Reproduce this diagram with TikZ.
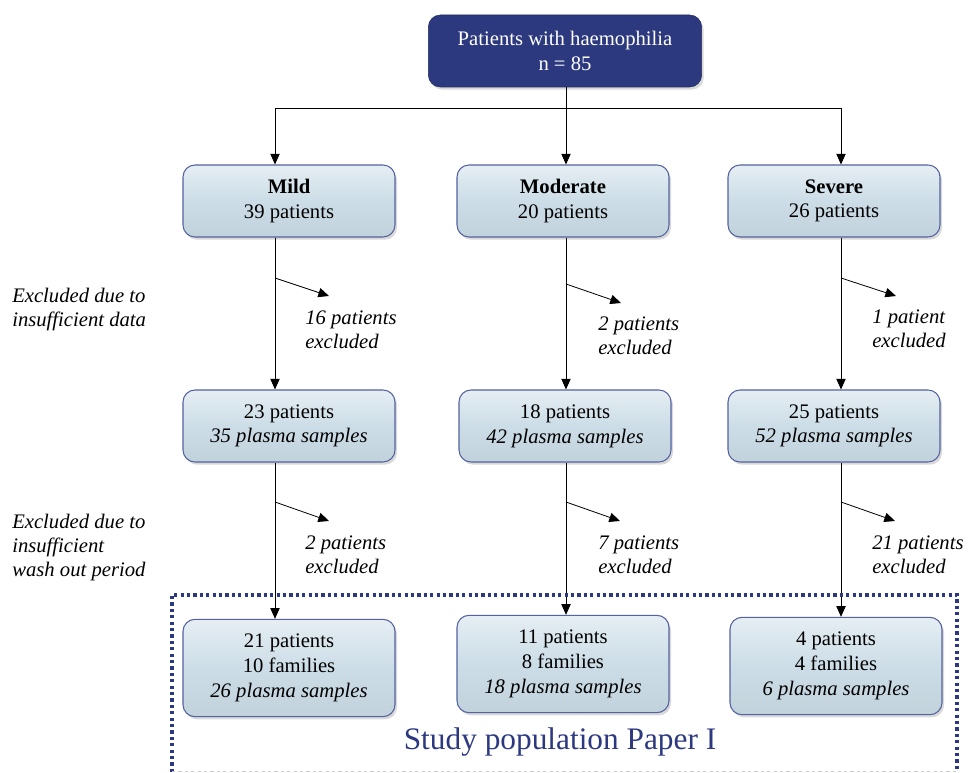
\documentclass[tikz,border=0pt]{standalone}
\usepackage{fontspec}
\setmainfont{Liberation Serif}
\usetikzlibrary{arrows.meta,shadows}
\definecolor{navybox}{RGB}{44,57,126}
\definecolor{paleblue}{RGB}{204,221,231}
\definecolor{edgeblue}{RGB}{84,98,160}
\definecolor{studyblue}{RGB}{44,56,128}
\tikzset{x=0.75pt,y=-0.75pt,
 txt/.style={font=\fontsize{15.5}{18.5}\selectfont},
 topbox/.style={txt,draw=navybox!75!black,fill=navybox,text=white,rounded corners=9pt,
  minimum width=205pt,minimum height=54pt,align=center,
  drop shadow={opacity=0.3,shadow xshift=1.5pt,shadow yshift=-2pt}},
 catbox/.style={txt,draw=edgeblue,thick,rounded corners=9pt,
  top color=paleblue!50!white,bottom color=paleblue!95!black,middle color=paleblue,
  minimum width=159pt,minimum height=54pt,align=center,
  drop shadow={opacity=0.3,shadow xshift=1.5pt,shadow yshift=-2pt}},
 popbox/.style={catbox,minimum height=73pt},
 note/.style={txt,font=\fontsize{15.5}{18}\selectfont\itshape,inner sep=0pt,anchor=west,align=left},
 arr/.style={-{Triangle[length=8pt,width=7pt]},line width=0.6pt},
 line/.style={line width=0.6pt},
 studyframe/.style={draw=studyblue,line width=2.4pt,dash pattern=on 2.4pt off 2.4pt},
 framefoot/.style={draw=black!20,line width=0.8pt,dash pattern=on 2.4pt off 2.4pt},
 }
\begin{document}
\begin{tikzpicture}
    \useasboundingbox (0,0) rectangle (968,773);
    \node[topbox] (all) at (565,51) {Patients with haemophilia\\n = 85};
    \node[catbox] (mild) at (289,201) {\textbf{Mild}\\39 patients};
    \node[catbox] (moderate) at (563,201) {\textbf{Moderate}\\20 patients};
    \node[catbox] (severe) at (834,201) {\textbf{Severe}\\26 patients};
    \node[catbox] (mild2) at (289,426) {23 patients\\\textit{35 plasma samples}};
    \node[catbox] (moderate2) at (565,426) {18 patients\\\textit{42 plasma samples}};
    \node[catbox] (severe2) at (834,426) {25 patients\\\textit{52 plasma samples}};
    \node[popbox] (mild3) at (289,668) {21 patients\\10 families\\\textit{26 plasma samples}};
    \node[popbox] (moderate3) at (563,664) {11 patients\\8 families\\\textit{18 plasma samples}};
    \node[popbox] (severe3) at (836,666) {4 patients\\4 families\\\textit{6 plasma samples}};

    \coordinate (split) at (566,108);
    \coordinate (jmild) at (275,108);
    \coordinate (jmod) at (566,108);
    \coordinate (jsev) at (841,108);
    \draw[line] (split |- all.south) -- (split);
    \draw[line] (jmild) -- (jsev);
    \draw[arr] (jmild) -- (jmild |- mild.north);
    \draw[arr] (jmod) -- (jmod |- moderate.north);
    \draw[arr] (jsev) -- (jsev |- severe.north);
    \draw[arr] (jmild |- mild.south) -- (jmild |- mild2.north);
    \draw[arr] (jmod |- moderate.south) -- (jmod |- moderate2.north);
    \draw[arr] (jsev |- severe.south) -- (jsev |- severe2.north);
    \draw[arr] (jmild |- mild2.south) -- (jmild |- mild3.north);
    \draw[arr] (jmod |- moderate2.south) -- (jmod |- moderate3.north);
    \draw[arr] (jsev |- severe2.south) -- (jsev |- severe3.north);

    \coordinate (xmild) at (275,278);
    \coordinate (xmod) at (566,284);
    \coordinate (xsev) at (841,278);
    \coordinate (wmild) at (275,502);
    \coordinate (wmod) at (566,502);
    \coordinate (wsev) at (841,502);
    \draw[arr] (xmild) -- ++(54,18);
    \draw[arr] (xmod) -- ++(55,19);
    \draw[arr] (xsev) -- ++(55,18);
    \draw[arr] (wmild) -- ++(54,19);
    \draw[arr] (wmod) -- ++(54,19);
    \draw[arr] (wsev) -- ++(54,19);

    \node[note] (nmild) at (305,330) {16 patients\\excluded};
    \node[note] (nmod) at (598,336) {2 patients\\excluded};
    \node[note] (nsev) at (872,329) {1 patient\\excluded};
    \node[note] (omild) at (305,555) {2 patients\\excluded};
    \node[note] (omod) at (598,555) {7 patients\\excluded};
    \node[note] (osev) at (872,555) {21 patients\\excluded};
    \node[note] (whydata) at (12,310) {Excluded due to\\insufficient data};
    \node[note] (whywash) at (12,548) {Excluded due to\\insufficient\\wash out period};

    \draw[studyframe] (172,772) -- (172,595) -- (957,595) -- (957,772);
    \draw[framefoot] (172,771.5) -- (957,771.5);
    \node[text=studyblue,font=\fontsize{23.5}{28}\selectfont] (study) at (560,742) {Study population Paper I};
\end{tikzpicture}
\end{document}
